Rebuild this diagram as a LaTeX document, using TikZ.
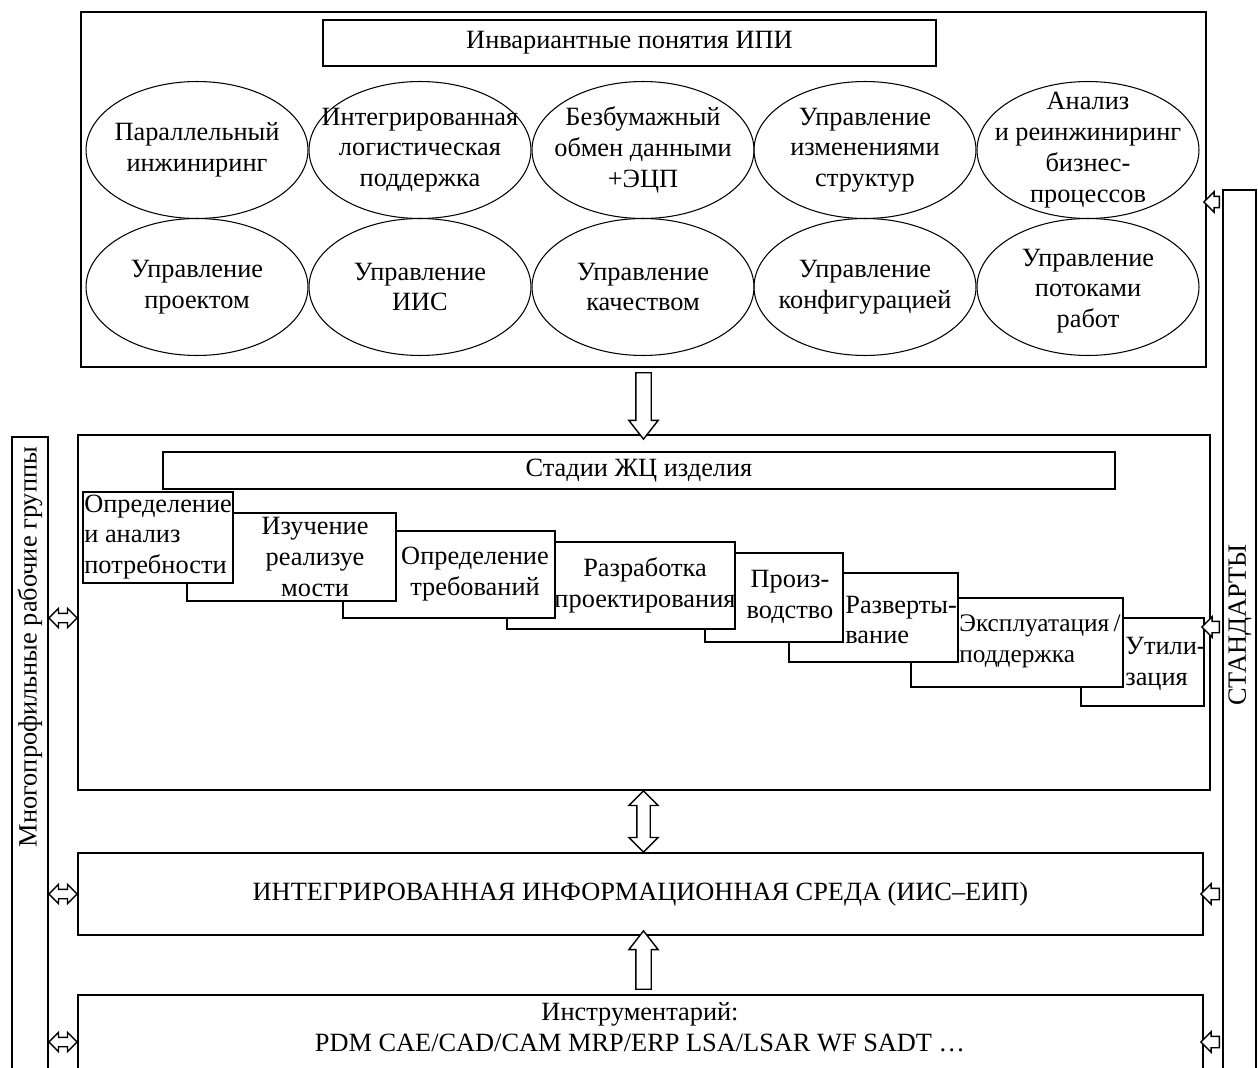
\documentclass[tikz,border=0pt]{standalone}
\usepackage{fontspec}
\setmainfont{Liberation Serif}
\usetikzlibrary{shapes.geometric, shapes.arrows, fit, calc, positioning}

\tikzset{
  frame/.style={draw, line width=0.9pt, inner sep=0pt},
  box/.style={draw, fill=white, line width=0.8pt, inner sep=0pt},
  concept/.style={ellipse, draw, line width=0.6pt, minimum width=4.44cm,
    minimum height=2.74cm, inner sep=0pt},
  txt/.style={align=center, inner sep=0pt},
  arrbase/.style={draw, fill=white, line width=0.8pt, inner sep=0pt,
    minimum width=0pt, anchor=center},
  bigarr/.style={arrbase, single arrow, inner ysep=0.14cm,
    single arrow head extend=0.14cm, single arrow tip angle=76},
  bigdbl/.style={arrbase, double arrow, inner ysep=0.12cm,
    double arrow head extend=0.16cm, double arrow tip angle=90},
  smallarr/.style={arrbase, single arrow, inner ysep=0.1cm,
    single arrow head extend=0.09cm, single arrow tip angle=90},
  smalldbl/.style={arrbase, double arrow, inner ysep=0.08cm,
    double arrow head extend=0.1cm, double arrow tip angle=90}
}

% hollow block arrow between two points
\newcommand{\blockarrow}[4]{%
  \path let \p1=(#3), \p2=(#4), \n1={veclen(\x2-\x1,\y2-\y1)},
    \n2={atan2(\y2-\y1,\x2-\x1)} in
    node[#1, minimum height=\n1, rotate=\n2] (#2) at ($(\p1)!0.5!(\p2)$) {};}

\begin{document}
\begin{tikzpicture}[x=0.02cm, y=-0.02cm,
  every node/.style={font=\fontsize{15}{17.5}\selectfont}]

    \useasboundingbox (0,0) rectangle (1258,1068);
    \clip (0,0) rectangle (1258,1068);

    % --- Invariant concepts ---
    \node[frame, fit={(81,12) (1206,367)}] (ipi) {};
    \node[box, fit={(323,20) (936,66)}] (ipititle) {};
    \node[txt] (ipititlelbl) at (ipititle.center) {Инвариантные понятия ИПИ};

    \node[concept] (pe)   at (197,150)  {};
    \node[concept] (ils)  at (420,150)  {};
    \node[concept] (edi)  at (643,150)  {};
    \node[concept] (chg)  at (865,150)  {};
    \node[concept] (bpr)  at (1088,150) {};
    \node[concept] (pm)   at (197,287)  {};
    \node[concept] (iism) at (420,287)  {};
    \node[concept] (qm)   at (643,287)  {};
    \node[concept] (cm)   at (865,287)  {};
    \node[concept] (wf)   at (1088,287) {};

    \node[txt] (pelbl)   at (pe)   {Параллельный\\инжиниринг};
    \node[txt] (ilslbl)  at (ils)  {Интегрированная\\логистическая\\поддержка};
    \node[txt] (edilbl)  at (edi)  {Безбумажный\\обмен данными\\+ЭЦП};
    \node[txt] (chglbl)  at (chg)  {Управление\\изменениями\\структур};
    \node[txt] (bprlbl)  at (bpr)  {Анализ\\и реинжиниринг\\бизнес-\\процессов};
    \node[txt] (pmlbl)   at (pm)   {Управление\\проектом};
    \node[txt] (iismlbl) at (iism) {Управление\\ИИС};
    \node[txt] (qmlbl)   at (qm)   {Управление\\качеством};
    \node[txt] (cmlbl)   at (cm)   {Управление\\конфигурацией};
    \node[txt] (wflbl)   at ($(wf)+(0,4)$) {Управление\\потоками\\работ};

    % --- Life cycle stages ---
    \node[frame, fit={(78,435) (1210,790)}] (stage) {};
    \node[box, fit={(163,452) (1115,489)}] (stagetitle) {};
    \node[txt] (stagetitlelbl) at (stagetitle.center) {Стадии ЖЦ изделия};

    % boxes from back to front
    \node[box, fit={(1081,618) (1204,706)}] (b8) {};
    \node[box, fit={(911,598) (1123,687)}]  (b7) {};
    \node[box, fit={(789,573) (958,662)}]   (b6) {};
    \node[box, fit={(705,553) (843,642)}]   (b5) {};
    \node[box, fit={(507,542) (735,629)}]   (b4) {};
    \node[box, fit={(343,531) (555,618)}]   (b3) {};
    \node[box, fit={(187,513) (396,601)}]   (b2) {};
    \node[box, fit={(83,492) (233,583)}]    (b1) {};

    \node[txt, align=left, anchor=west] (t1) at (84,537) {Определение\\и анализ\\потребности};
    \node[txt] (t2) at (315,557) {Изучение\\реализуе\\мости};
    \node[txt] (t3) at (475,574) {Определение\\требований};
    \node[txt] (t4) at (645,585) {Разработка\\проектирования};
    \node[txt] (t5) at (790,597) {Произ-\\водство};
    \node[txt, align=left, anchor=west] (t6) at (845,620) {Разверты-\\вание};
    \node[txt, align=left, anchor=west, font=\fontsize{14.4}{17.5}\selectfont]
      (t7) at (959,641) {Эксплуатация\,/\\поддержка};
    \node[txt, align=left, anchor=west] (t8) at (1125,664) {Утили-\\зация};

    % --- Information environment and tools ---
    \node[frame, fit={(78,853) (1203,935)}] (iis) {};
    \node[txt] (iislbl) at (iis.center) {ИНТЕГРИРОВАННАЯ ИНФОРМАЦИОННАЯ СРЕДА (ИИС–ЕИП)};
    \node[frame, fit={(78,995) (1203,1100)}] (tools) {};
    \node[txt] (toolslbl) at (640,1027) {Инструментарий:\\PDM CAE/CAD/CAM MRP/ERP LSA/LSAR WF SADT …};

    % --- Side bars ---
    \node[frame, fill=white, fit={(12,437) (48,1100)}] (groups) {};
    \node[rotate=90] (groupslbl) at (30,647) {Многопрофильные рабочие группы};
    \node[frame, fill=white, fit={(1223,190) (1256,1100)}] (std) {};
    \node[rotate=90] (stdlbl) at (1240,625) {СТАНДАРТЫ};

    % --- Connectors ---
    \blockarrow{bigarr}{a1}{ipi.south}{ipi.south |- stage.north}
    \blockarrow{bigdbl}{a2}{stage.south -| ipi.south}{iis.north -| ipi.south}
    \blockarrow{bigarr}{a3}{tools.north -| ipi.south}{iis.south -| ipi.south}

    \coordinate (lvA) at (0,618);
    \coordinate (lvB) at (0,894);
    \coordinate (lvC) at (0,1042);
    \coordinate (lvD) at (0,202);
    \coordinate (lvE) at (0,627);

    \foreach \lv/\tgt [count=\i] in {lvA/stage, lvB/iis, lvC/tools}
      \blockarrow{smalldbl}{la\i}{groups.east |- \lv}{\tgt.west |- \lv};
    \foreach \lv/\tgt [count=\i] in {lvD/ipi, lvE/b8, lvB/iis, lvC/tools}
      \blockarrow{smallarr}{ra\i}{std.west |- \lv}{\tgt.east |- \lv};

\end{tikzpicture}
\end{document}
